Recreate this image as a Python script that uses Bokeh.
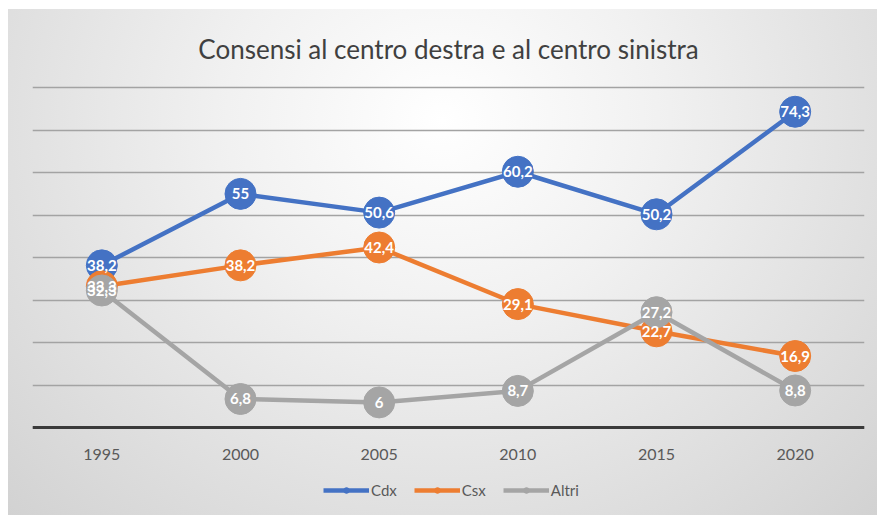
from bokeh.plotting import figure
from bokeh.models import (FactorRange, Range1d, ColumnDataSource, Legend, LegendItem,
                          SingleIntervalTicker)
from bokeh.core.properties import value
from bokeh.embed import file_html
from bokeh.resources import INLINE

years = ["1995", "2000", "2005", "2010", "2015", "2020"]
cdx = [38.2, 55, 50.6, 60.2, 50.2, 74.3]
csx = [33.3, 38.2, 42.4, 29.1, 22.7, 16.9]
altri = [32.3, 6.8, 6, 8.7, 27.2, 8.8]
cdx_lbl = ["38,2", "55", "50,6", "60,2", "50,2", "74,3"]
csx_lbl = ["33,3", "38,2", "42,4", "29,1", "22,7", "16,9"]
altri_lbl = ["32,3", "6,8", "6", "8,7", "27,2", "8,8"]

FONT = "Lato"

p = figure(width=869, height=506, x_range=FactorRange(*years, range_padding=0),
           y_range=Range1d(-20.58, 80.47), output_backend="svg", toolbar_location=None,
           min_border_left=24, min_border_right=13, min_border_top=74, min_border_bottom=0)
p.margin = (9, 0, 0, 8)

p.styles = {"background": "radial-gradient(ellipse farthest-corner at 50% 22%, #ffffff 0%, #f1f1f1 35%, #d2d2d2 100%)"}
p.border_fill_color = None
p.background_fill_color = None
p.outline_line_color = None

p.title.text = "Consensi al centro destra e al centro sinistra"
p.title.align = "center"
p.title.text_font = FONT
p.title.text_font_size = "26px"
p.title.text_font_style = "normal"
p.title.text_color = "#404040"
p.title.text_line_height = 1.0
p.title.standoff = 42

p.yaxis.visible = False
p.yaxis.ticker = SingleIntervalTicker(interval=10)
p.ygrid.ticker = SingleIntervalTicker(interval=10)
p.ygrid.bounds = (0, 80)
p.ygrid.grid_line_color = "#a3a3a3"
p.ygrid.grid_line_width = 1.3
p.xgrid.grid_line_color = None

p.xaxis.fixed_location = 0
p.xaxis.axis_line_color = "#3a3a3a"
p.xaxis.axis_line_width = 3
p.xaxis.major_tick_line_color = None
p.xaxis.minor_tick_line_color = None
p.xaxis.major_label_text_font = FONT
p.xaxis.major_label_text_font_size = "16px"
p.xaxis.major_label_text_color = "#595959"
p.xaxis.major_label_standoff = 15

series = [
    ("Cdx", cdx, cdx_lbl, "#4472C4"),
    ("Csx", csx, csx_lbl, "#ED7D31"),
    ("Altri", altri, altri_lbl, "#A5A5A5"),
]

items = []
for name, vals, lbls, color in series:
    src = ColumnDataSource(dict(x=years, y=vals, t=lbls))
    ln = p.line("x", "y", source=src, line_color=color, line_width=4.5, line_join="round")
    small = p.scatter("x", "y", source=src, size=9, fill_color=color, line_color=color)
    p.scatter("x", "y", source=src, size=31, fill_color=color, line_color=color)
    items.append(LegendItem(label=name, renderers=[ln, small]))

for name, vals, lbls, color in series:
    src = ColumnDataSource(dict(x=years, y=vals, t=lbls))
    p.text("x", "y", text="t", source=src, text_font=value(FONT), text_font_size="15px",
           text_font_style="bold", text_color="white", text_align="center",
           text_baseline="middle")

legend = Legend(items=items, orientation="horizontal", location=(291, 16),
                glyph_width=46, glyph_height=14, label_standoff=2, spacing=17,
                label_text_font=FONT, label_text_font_size="15px",
                label_text_color="#595959", background_fill_alpha=0,
                border_line_color=None, padding=4, margin=0)
p.add_layout(legend)

open("out.html", "w").write(file_html(p, INLINE))
